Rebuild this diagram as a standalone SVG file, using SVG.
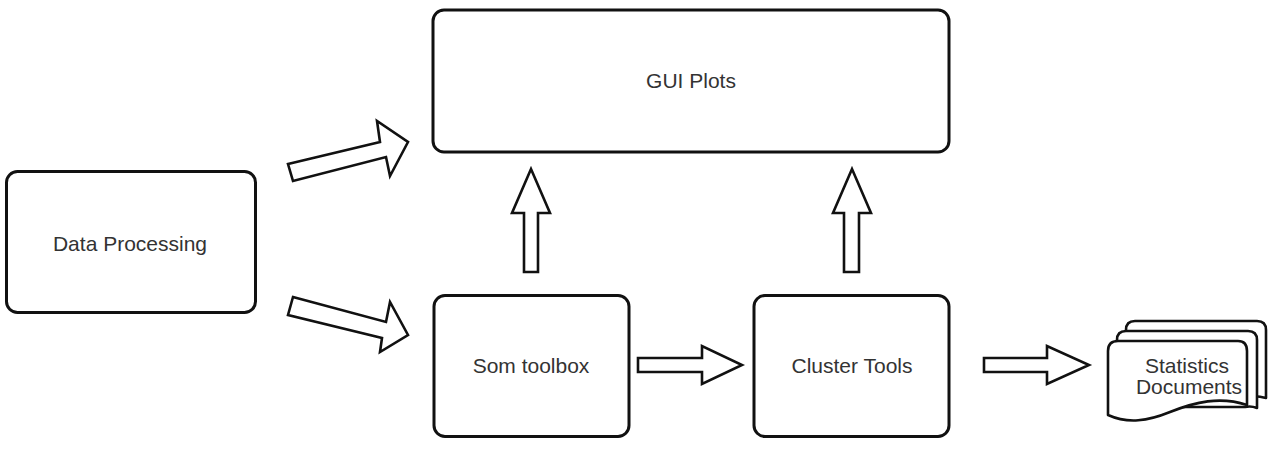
<svg xmlns="http://www.w3.org/2000/svg" width="1274" height="468" viewBox="0 0 1274 468">
<style>
.box{fill:#fff;stroke:#111;stroke-width:3}
.arr{fill:#fff;stroke:#111;stroke-width:2.6;stroke-linejoin:miter}
.page{fill:#fff;stroke:#111;stroke-width:2.6;stroke-linejoin:round}
.lbl{font-family:"Liberation Sans",Arial,sans-serif;font-size:21px;fill:#333;text-anchor:middle}
</style>
<rect width="1274" height="468" fill="#fff"/>
<g id="connectors">
<polygon class="arr" points="288,164 380,142 377,121 408,142 390,176 386,157 293,181"/>
<polygon class="arr" points="293,297 386,322 390,302 408,335 380,352 382,338 288,315"/>
<polygon class="arr" points="524,272 524,213 512,213 531,169 550,213 538,213 538,272"/>
<polygon class="arr" points="844,272 844,213 833,213 852,169 871,213 859,213 859,272"/>
<polygon class="arr" points="638,358 702,358 702,346 742,365 702,384 702,372 638,372"/>
<polygon class="arr" points="984,358 1047,358 1047,346 1089,365 1047,384 1047,372 984,372"/>
</g>
<g id="gui-plots">
<rect class="box" x="433" y="10" width="516" height="142" rx="11"/>
<text class="lbl" x="691" y="88">GUI Plots</text>
</g>
<g id="data-processing">
<rect class="box" x="6.5" y="171.5" width="249" height="141" rx="11"/>
<text class="lbl" x="130" y="251">Data Processing</text>
</g>
<g id="som-toolbox">
<rect class="box" x="434" y="295.5" width="195" height="141" rx="11"/>
<text class="lbl" x="531" y="373">Som toolbox</text>
</g>
<g id="cluster-tools">
<rect class="box" x="754" y="295.5" width="195" height="141" rx="11"/>
<text class="lbl" x="852" y="373">Cluster Tools</text>
</g>
<g id="statistics-documents">
<path class="page" d="M1126,330 Q1126,321 1135,321 L1257,321 Q1266,321 1266,330 L1266,398 C1255,395 1250,396 1245,398 L1126,398 Z"/>
<path class="page" d="M1117,340 Q1117,331 1126,331 L1248,331 Q1257,331 1257,340 L1257,408 C1252,406 1249,406 1245,407 L1117,407 Z"/>
<path class="page" d="M1108,351 Q1108,341 1118,341 L1238,341 Q1247,341 1247,351 L1247,405 C1220,396 1195,402 1170,412 C1148,421 1128,424 1108,415 Z"/>
<text class="lbl" x="1187" y="373">Statistics</text>
<text class="lbl" x="1189" y="394">Documents</text>
</g>
</svg>
